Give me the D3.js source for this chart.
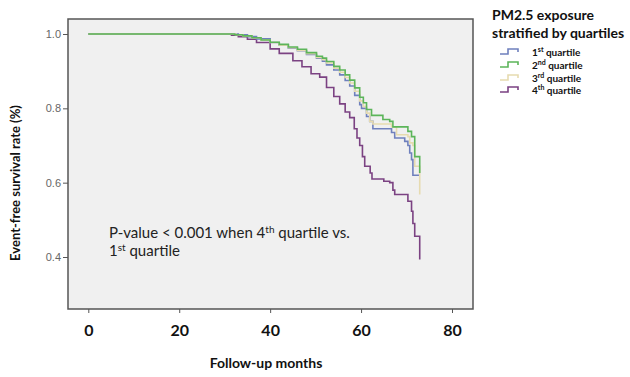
<!DOCTYPE html>
<html>
<head>
<meta charset="utf-8">
<script src="https://cdn.jsdelivr.net/npm/d3@7"></script>
<style>
  body { margin: 0; background: #fff; }
  svg { display: block; }
</style>
</head>
<body>
<svg id="km" width="630" height="377"></svg>
<script>
// Kaplan-Meier steps: [month, event-free survival]
const quartile1 = [
    [0, 1.0], [33, 0.998], [35, 0.993], [37, 0.987], [40, 0.977], [42, 0.97], [44, 0.962],
    [46, 0.955], [48, 0.945], [50.2, 0.935], [51.5, 0.927], [52.4, 0.917], [54, 0.903],
    [55.3, 0.89], [56.5, 0.875], [57.5, 0.86], [58.6, 0.835], [59.7, 0.81], [60.1, 0.8],
    [61.2, 0.778], [61.9, 0.765], [62.6, 0.745], [66.7, 0.735], [67.4, 0.72], [69.6, 0.711],
    [70.3, 0.7], [70.7, 0.68], [71.1, 0.662], [71.4, 0.62], [72.9, 0.62],
];
const quartile2 = [
    [0, 1.0], [32.2, 0.998], [34, 0.995], [36, 0.99], [38, 0.984], [40, 0.978], [42, 0.972],
    [44, 0.965], [46, 0.959], [48, 0.95], [50.2, 0.94], [51.5, 0.935], [52.4, 0.926],
    [54, 0.913], [55.3, 0.903], [56.5, 0.89], [57.5, 0.876], [58.6, 0.855], [59.7, 0.83],
    [60.5, 0.815], [61.2, 0.797], [62.3, 0.781], [64.8, 0.77], [66.3, 0.765], [67, 0.75],
    [70.3, 0.738], [71.1, 0.724], [71.8, 0.67], [72.9, 0.626],
];
const quartile3 = [
    [0, 1.0], [32.5, 0.998], [34, 0.995], [36, 0.99], [38, 0.984], [40, 0.977], [42, 0.97],
    [44, 0.963], [46, 0.956], [48, 0.947], [50.2, 0.937], [51.5, 0.931], [52.4, 0.922],
    [54, 0.908], [55.3, 0.897], [56.5, 0.883], [57.5, 0.868], [58.6, 0.846], [59.7, 0.82],
    [60.5, 0.805], [61.2, 0.787], [61.9, 0.765], [62.6, 0.758], [66.7, 0.75], [67.8, 0.729],
    [70.3, 0.724], [70.7, 0.707], [71.4, 0.7], [71.8, 0.644], [72.9, 0.568],
];
const quartile4 = [
    [0, 1.0], [31.5, 0.997], [33, 0.993], [35, 0.986], [37, 0.977], [40, 0.96], [42, 0.948],
    [45, 0.928], [47, 0.912], [49, 0.893], [50.9, 0.884], [52.4, 0.856], [54, 0.832],
    [55.3, 0.812], [56.5, 0.79], [57.5, 0.775], [58.5, 0.745], [59.1, 0.72], [59.7, 0.7],
    [60.3, 0.67], [60.8, 0.644], [62, 0.626], [62.4, 0.61], [65, 0.604], [66.3, 0.6],
    [67, 0.58], [67.4, 0.568], [70.3, 0.55], [71.1, 0.523], [71.4, 0.49], [71.8, 0.456],
    [72.9, 0.393],
];

const seriesNames = ['1', '2', '3', '4'];
const seriesSup = ['st', 'nd', 'rd', 'th'];
const seriesColors = ['#6f80bd', '#5cb55a', '#e6dbb0', '#7b4282'];
const xTicks = [0, 20, 40, 60, 80];
const yTicks = [0.4, 0.6, 0.8, 1.0];

const svg = d3.select('#km');

// plot frame
const frame = { left: 68, right: 473, top: 19, bottom: 309 };

const xScale = d3.scaleLinear().domain([0, 80]).range([88.3, 452]);
const yScale = d3.scaleLinear().domain([0.4, 1.0]).range([257, 34]);

svg.append('rect')
    .attr('x', frame.left)
    .attr('y', frame.top)
    .attr('width', frame.right - frame.left)
    .attr('height', frame.bottom - frame.top)
    .attr('fill', '#f0f0f0')
    .attr('stroke', '#555')
    .attr('stroke-width', 1.5);

// y axis (gray arial style)
const yAxis = d3.axisLeft(yScale).tickValues(yTicks).tickFormat(d3.format('.1f')).tickSize(5).tickPadding(2);
const gy = svg.append('g').attr('transform', `translate(${frame.left},0)`).call(yAxis);
gy.select('.domain').remove();
gy.selectAll('line').attr('stroke', '#555');
gy.selectAll('text')
    .attr('fill', '#666')
    .style('font-family', 'Liberation Sans, Arial, sans-serif')
    .style('font-size', '11px');

// x axis (bold labels)
const xAxis = d3.axisBottom(xScale).tickValues(xTicks).tickSize(4).tickPadding(12);
const gx = svg.append('g').attr('transform', `translate(0,${frame.bottom})`).call(xAxis);
gx.select('.domain').remove();
gx.selectAll('line').attr('stroke', '#555');
gx.selectAll('text')
    .attr('fill', '#111')
    .style('font-family', 'Lato, sans-serif')
    .style('font-weight', 'bold')
    .style('font-size', '16px');

// axis titles
svg.append('text')
    .attr('transform', 'translate(20,183) rotate(-90)')
    .style('text-anchor', 'middle')
    .style('font-family', 'Lato, sans-serif')
    .style('font-weight', 'bold')
    .style('font-size', '13px')
    .attr('fill', '#111')
    .text('Event-free survival rate (%)');

svg.append('text')
    .attr('x', 266)
    .attr('y', 368)
    .style('text-anchor', 'middle')
    .style('font-family', 'Lato, sans-serif')
    .style('font-weight', 'bold')
    .style('font-size', '14px')
    .attr('fill', '#111')
    .text('Follow-up months');

// survival curves
const line = d3.line()
    .x((d) => xScale(d[0]))
    .y((d) => yScale(d[1]))
    .curve(d3.curveStepAfter);

const allSeries = [quartile1, quartile2, quartile3, quartile4];
const drawOrder = [3, 0, 2, 1];
drawOrder.forEach((i) => {
    svg.append('path')
        .datum(allSeries[i])
        .attr('d', line)
        .attr('fill', 'none')
        .attr('stroke', seriesColors[i])
        .attr('stroke-width', 1.6);
});

// annotation
const note = svg.append('g')
    .style('font-family', 'Lato, sans-serif')
    .style('font-size', '15px')
    .attr('fill', '#222');
const l1 = note.append('text').attr('x', 109).attr('y', 238);
l1.append('tspan').text('P-value < 0.001 when 4');
l1.append('tspan').attr('dy', -5).style('font-size', '10px').text('th');
l1.append('tspan').attr('dy', 5).text(' quartile vs.');
const l2 = note.append('text').attr('x', 109).attr('y', 256);
l2.append('tspan').text('1');
l2.append('tspan').attr('dy', -5).style('font-size', '10px').text('st');
l2.append('tspan').attr('dy', 5).text(' quartile');

// legend
const legend = svg.append('g')
    .style('font-family', 'Lato, sans-serif')
    .attr('fill', '#111');
legend.append('text').attr('x', 492).attr('y', 20)
    .style('font-weight', 'bold').style('font-size', '14px').text('PM2.5 exposure');
legend.append('text').attr('x', 492).attr('y', 38)
    .style('font-weight', 'bold').style('font-size', '14px').text('stratified by quartiles');

const rowY = [52, 65, 78, 90];
seriesNames.forEach((n, i) => {
    const y = rowY[i];
    legend.append('path')
        .attr('d', `M500,${y + 2}H508V${y - 3}H518V${y}`)
        .attr('fill', 'none')
        .attr('stroke', seriesColors[i])
        .attr('stroke-width', 1.6);
    const t = legend.append('text').attr('x', 532).attr('y', y + 4)
        .style('font-weight', 'bold').style('font-size', '10px');
    t.append('tspan').text(n);
    t.append('tspan').attr('dy', -4).style('font-size', '7px').text(seriesSup[i]);
    t.append('tspan').attr('dy', 4).text(' quartile');
});
</script>
</body>
</html>
